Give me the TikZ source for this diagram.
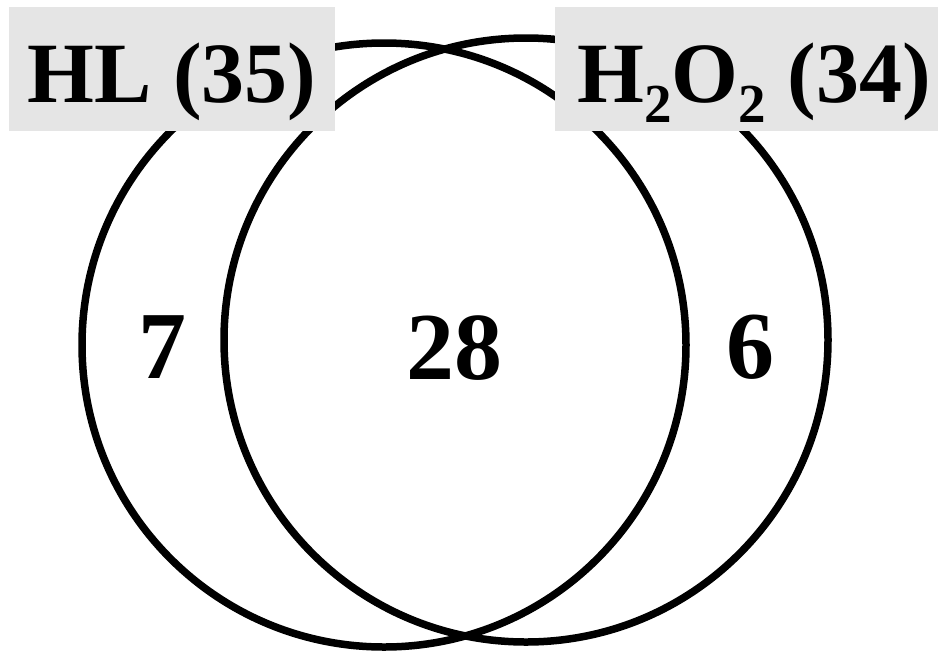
\documentclass[tikz,border=0pt]{standalone}
\usepackage{fontspec}
\setmainfont{Liberation Serif}
\usepackage{tikz}
\newcommand{\chemsub}[1]{\raisebox{-0.4cm}{\fontsize{31.3pt}{32pt}\selectfont #1}}

\begin{document}
\begin{tikzpicture}[
    setring/.style={draw, circle, line width=0.15cm, minimum size=12.08cm, inner sep=0pt},
    setname/.style={fill=black!10, inner sep=0pt, text height=1.9cm, text depth=0.58cm,
                    font=\fontsize{48.9pt}{50pt}\selectfont\bfseries},
    count/.style={inner sep=0pt, font=\fontsize{54.6pt}{56pt}\selectfont\bfseries}]
    \useasboundingbox (0,0) rectangle (18.76,-13.04);

    \node[setring] (hlset)   at ( 7.68,-6.90) {};
    \node[setring] (h2o2set) at (10.52,-6.80) {};

    \node[setname, minimum width=6.52cm] (hlname)   at ( 3.44,-1.38) {HL (35)};
    \node[setname, minimum width=7.66cm, inner xsep=0pt] (h2o2name) at (14.93,-1.38)
      {\hspace{0.3cm}H\chemsub{2}O\chemsub{2} (34)};

    \node[count] (onlyhl)   at ( 3.24,-6.94) {7};
    \node[count] (both)     at ( 9.08,-6.96) {28};
    \node[count] (onlyh2o2) at (15.00,-6.94) {6};
  \end{tikzpicture}
\end{document}
